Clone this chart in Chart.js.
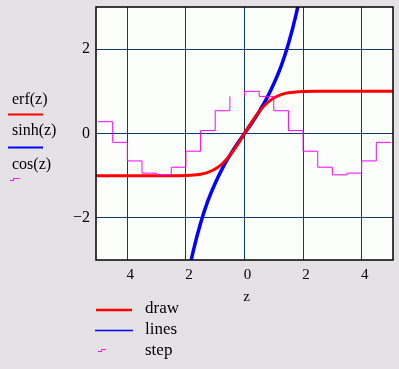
<!DOCTYPE html>
<html>
<head>
<meta charset="utf-8">
<script src="https://cdn.jsdelivr.net/npm/chart.js@4/dist/chart.umd.min.js"></script>
<style>
  html, body { margin: 0; padding: 0; background: #e4e2e5; }
  #wrap { width: 399px; height: 369px; }
</style>
</head>
<body>
<div id="wrap"><canvas id="chart" width="399" height="369"></canvas></div>
<script>
// values
const erfX = [-5.1, -4, -3, -2.5, -2, -1.75, -1.5, -1.25, -1, -0.75, -0.5, -0.25, 0, 0.25, 0.5, 0.75, 1, 1.25, 1.5, 1.75, 2, 2.5, 3, 4, 5.1];
const erfY = [-1, -1, -1, -1, -0.995, -0.987, -0.966, -0.923, -0.843, -0.711, -0.52, -0.276, 0, 0.276, 0.52, 0.711, 0.843, 0.923, 0.966, 0.987, 0.995, 1, 1, 1, 1];

const sinhX = [-1.9, -1.75, -1.5, -1.25, -1, -0.75, -0.5, -0.25, 0, 0.25, 0.5, 0.75, 1, 1.25, 1.5, 1.75, 1.9];
const sinhY = [-3.27, -2.79, -2.13, -1.6, -1.18, -0.82, -0.52, -0.25, 0, 0.25, 0.52, 0.82, 1.18, 1.6, 2.13, 2.79, 3.27];

// step trace (one piece missing just left of z = 0 in the picture)
const stepX = [-5, -4.5, -4, -3.5, -3, -2.5, -2, -1.5, -1, -0.5, -0.25, 0, 0, 0.5, 1, 1.5, 2, 2.5, 3, 3.5, 4, 4.5, 5];
const stepY = [0.28, -0.21, -0.65, -0.94, -0.98, -0.8, -0.42, 0.07, 0.54, 0.88, null, 0.88, 1.0, 0.88, 0.54, 0.07, -0.42, -0.8, -0.98, -0.94, -0.65, -0.21, -0.21];

const xTicks = [-4, -2, 0, 2, 4];
const yTicks = [-2, 0, 2];

const legendLeft = ["erf(z)", "sinh(z)", "cos(z)"];
const legendBottom = ["draw", "lines", "step"];

const pts = (xs, ys) => xs.map((x, i) => ({ x: x, y: ys[i] }));

const serif = "'Liberation Serif', 'DejaVu Serif', serif";
const gridColor = "#0a3c6e";

const framePlugin = {
    id: "frame",
    beforeDraw(chart) {
        const ctx = chart.ctx, a = chart.chartArea;
        ctx.save();
        ctx.fillStyle = "#e4e2e5";
        ctx.fillRect(0, 0, chart.width, chart.height);
        ctx.fillStyle = "#fcfefc";
        ctx.fillRect(a.left, a.top, a.right - a.left, a.bottom - a.top);
        ctx.restore();
    },
    afterDraw(chart) {
        const ctx = chart.ctx, a = chart.chartArea;
        ctx.save();
        ctx.strokeStyle = "#000";
        ctx.lineWidth = 1.5;
        ctx.strokeRect(a.left, a.top, a.right - a.left, a.bottom - a.top);

        ctx.fillStyle = "#000";
        ctx.textBaseline = "middle";
        ctx.textAlign = "center";
        ctx.font = "15px " + serif;
        ctx.fillText("z", chart.scales.x.getPixelForValue(0) + 2, 297);

        // left legend
        ctx.textAlign = "left";
        ctx.font = "16px " + serif;
        ctx.fillText(legendLeft[0], 12, 100);
        ctx.fillText(legendLeft[1], 12, 131);
        ctx.fillText(legendLeft[2], 12, 165);
        ctx.lineWidth = 2;
        ctx.strokeStyle = "#ff0000";
        ctx.beginPath(); ctx.moveTo(8, 114.5); ctx.lineTo(43, 114.5); ctx.stroke();
        ctx.strokeStyle = "#0000ff";
        ctx.beginPath(); ctx.moveTo(8, 147.5); ctx.lineTo(43, 147.5); ctx.stroke();
        ctx.lineWidth = 1;
        ctx.strokeStyle = "#ff00ff";
        ctx.beginPath(); ctx.moveTo(10, 180.5); ctx.lineTo(13.5, 180.5); ctx.lineTo(13.5, 178.5); ctx.lineTo(19, 178.5); ctx.stroke();

        // bottom legend
        ctx.font = "17px " + serif;
        ctx.fillText(legendBottom[0], 145, 309);
        ctx.fillText(legendBottom[1], 145, 330);
        ctx.fillText(legendBottom[2], 145, 351);
        ctx.lineWidth = 2.5;
        ctx.strokeStyle = "#ff0000";
        ctx.beginPath(); ctx.moveTo(96, 310); ctx.lineTo(132, 310); ctx.stroke();
        ctx.lineWidth = 1.5;
        ctx.strokeStyle = "#0000ff";
        ctx.beginPath(); ctx.moveTo(95, 330.5); ctx.lineTo(133, 330.5); ctx.stroke();
        ctx.lineWidth = 1;
        ctx.strokeStyle = "#ff00ff";
        ctx.beginPath(); ctx.moveTo(98, 351.5); ctx.lineTo(101.5, 351.5); ctx.lineTo(101.5, 349.5); ctx.lineTo(106, 349.5); ctx.stroke();
        ctx.restore();
    }
};

new Chart(document.getElementById("chart"), {
    type: "line",
    data: {
        datasets: [
            {
                data: pts(stepX, stepY),
                borderColor: "#ff00ff",
                borderWidth: 1,
                stepped: "before",
                spanGaps: false,
                pointRadius: 0
            },
            {
                data: pts(erfX, erfY),
                borderColor: "#ff0000",
                borderWidth: 3,
                cubicInterpolationMode: "monotone",
                pointRadius: 0
            },
            {
                data: pts(sinhX, sinhY),
                borderColor: "#0000ff",
                borderWidth: 3.5,
                cubicInterpolationMode: "monotone",
                pointRadius: 0
            }
        ]
    },
    options: {
        responsive: false,
        animation: false,
        events: [],
        layout: { padding: { top: 7, right: 6, left: 0, bottom: 0 } },
        plugins: { legend: { display: false }, tooltip: { enabled: false } },
        scales: {
            x: {
                type: "linear",
                min: -5.07,
                max: 5.07,
                afterBuildTicks: s => { s.ticks = xTicks.map(v => ({ value: v })); },
                afterFit: s => { s.height = 109; s.paddingLeft = 0; s.paddingRight = 0; },
                grid: { color: gridColor, lineWidth: 1, drawTicks: false },
                border: { display: false },
                ticks: {
                    padding: 6,
                    labelOffset: 3,
                    color: "#000",
                    font: { family: serif, size: 15 },
                    callback: v => String(Math.abs(v))
                }
            },
            y: {
                min: -3,
                max: 3,
                afterBuildTicks: s => { s.ticks = yTicks.map(v => ({ value: v })); },
                afterFit: s => { s.width = 96; s.paddingTop = 0; s.paddingBottom = 0; },
                grid: { color: gridColor, lineWidth: 1, drawTicks: false },
                border: { display: false },
                ticks: {
                    padding: 6,
                    color: "#000",
                    font: { family: serif, size: 16 },
                    callback: v => (v < 0 ? "\u2212" + Math.abs(v) : String(v))
                }
            }
        }
    },
    plugins: [framePlugin]
});
</script>
</body>
</html>
